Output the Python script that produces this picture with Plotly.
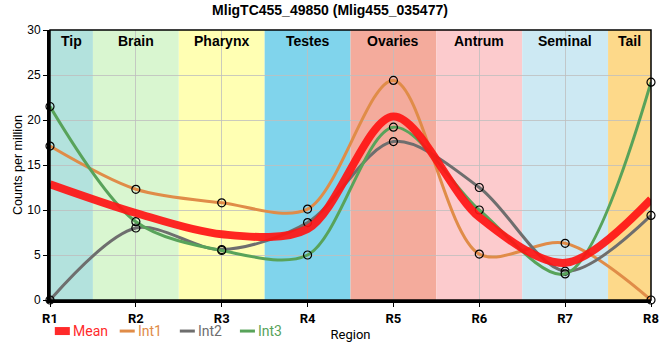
import plotly.graph_objects as go

regions = ["R1", "R2", "R3", "R4", "R5", "R6", "R7", "R8"]
tissues = ["Tip", "Brain", "Pharynx", "Testes", "Ovaries", "Antrum", "Seminal", "Tail"]
tissue_colors = ["#b3e2dd", "#d9f6d0", "#ffffb3", "#80d4ec", "#f4ab9c", "#fccbcd", "#cde9f3", "#fdd98a"]

int1 = [17.1, 12.3, 10.8, 10.1, 24.4, 5.1, 6.3, 0.0]
int2 = [0.0, 8.0, 5.6, 8.6, 17.6, 12.5, 3.2, 9.4]
int3 = [21.5, 8.7, 5.5, 5.0, 19.2, 10.0, 2.9, 24.2]
mean = [round((a + b + c) / 3, 2) for a, b, c in zip(int1, int2, int3)]

mean_color = "#ff2a2a"
series = [("Int1", int1, "#e08c48"), ("Int2", int2, "#6e6e6e"), ("Int3", int3, "#58a35a")]

xs = list(range(len(regions)))
fig = go.Figure()

for name, vals, col in series:
    fig.add_trace(go.Scatter(
        x=xs, y=vals, mode="lines+markers", name=name, showlegend=False,
        line=dict(color=col, width=3, shape="spline", smoothing=0.9),
        marker=dict(symbol="circle-open", size=8, color="black", line=dict(width=1.2, color="black")),
        cliponaxis=False,
    ))

fig.add_trace(go.Scatter(
    x=xs, y=mean, mode="lines", name="Mean", showlegend=False,
    line=dict(color="rgba(255,20,20,0.92)", width=8, shape="spline", smoothing=0.9),
    cliponaxis=False,
))

shapes = []
annotations = []
n = len(regions)
for i, (t, c) in enumerate(zip(tissues, tissue_colors)):
    x0 = max(0, i - 0.5)
    x1 = min(n - 1, i + 0.5)
    shapes.append(dict(type="rect", xref="x", yref="paper", x0=x0, x1=x1, y0=0, y1=1,
                       fillcolor=c, line=dict(width=0), layer="below"))
    annotations.append(dict(x=(x0 + x1) / 2, y=1, xref="x", yref="paper", yanchor="top",
                            text=f"<b>{t}</b>", showarrow=False, yshift=-1,
                            font=dict(size=14, color="black", family="Liberation Sans, Arial")))
shapes.append(dict(type="rect", xref="paper", yref="paper", x0=0, x1=1, y0=0, y1=1,
                   line=dict(color="black", width=1.5), layer="above"))

# manual legend (line swatches + coloured labels) below the plot
legend_items = [("Mean", mean_color, 8)] + [(nm, col, 3) for nm, _, col in series]
legend_x = [0.008, 0.116, 0.216, 0.316]  # paper fractions of plot width
for (nm, col, w), lx in zip(legend_items, legend_x):
    shapes.append(dict(type="line", xref="paper", yref="paper", x0=lx, x1=lx + 0.025,
                       y0=-0.115, y1=-0.115, line=dict(color=col, width=w)))
    annotations.append(dict(x=lx + 0.029, y=-0.115, xref="paper", yref="paper",
                            xanchor="left", yanchor="middle", text=nm, showarrow=False,
                            borderpad=0,
                            font=dict(size=14, color=col, family="Roboto, Liberation Sans")))

fig.update_layout(
    width=660, height=360,
    margin=dict(l=50, r=9, t=30, b=60, autoexpand=False),
    paper_bgcolor="white", plot_bgcolor="white",
    title=dict(text="<b>MligTC455_49850 (Mlig455_035477)</b>", x=0.5, xanchor="center",
               y=0.985, yanchor="top", font=dict(size=14, color="black", family="Liberation Sans, Arial")),
    font=dict(family="Liberation Sans, Arial", color="black"),
    shapes=shapes, annotations=annotations,
    showlegend=False,
    xaxis=dict(range=[0, n - 1], tickvals=xs, ticktext=[f"<b>{r}</b>" for r in regions],
               showgrid=True, gridcolor="rgba(190,190,190,0.8)", gridwidth=1, automargin=False,
               showline=True, linecolor="black", linewidth=3, ticks="outside", ticklen=4,
               tickcolor="black", tickfont=dict(size=13, family="Roboto, Liberation Sans"), zeroline=False,
               title=dict(text="Region", font=dict(size=13, family="Roboto, Liberation Sans"), standoff=6),
               layer="above traces"),
    yaxis=dict(range=[0, 30], tickvals=[0, 5, 10, 15, 20, 25, 30], automargin=False,
               showgrid=True, gridcolor="rgba(190,190,190,0.8)", gridwidth=1,
               showline=True, linecolor="black", linewidth=3, ticks="outside", ticklen=4,
               tickcolor="black", tickfont=dict(size=12), zeroline=False,
               title=dict(text="Counts per million", font=dict(size=12.5), standoff=2)),
)

fig.write_html("out.html", config={"displayModeBar": False},
               post_script="document.body.style.margin='0';document.body.style.overflow='hidden';")
